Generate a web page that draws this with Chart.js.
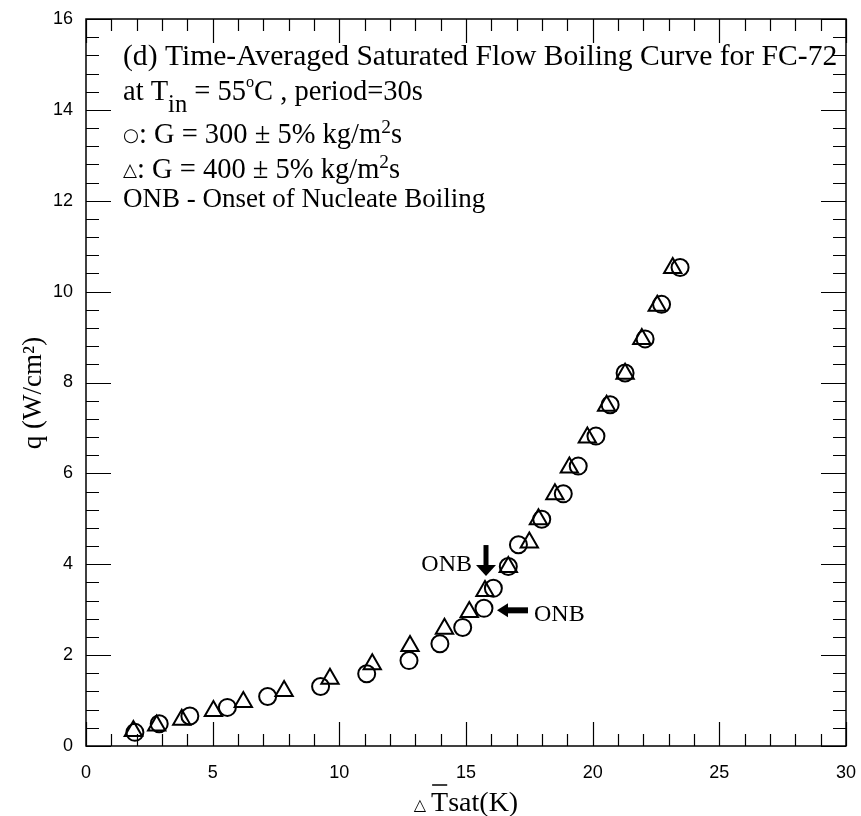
<!DOCTYPE html>
<html>
<head>
<meta charset="utf-8">
<script src="https://cdn.jsdelivr.net/npm/chart.js@4.4.1/dist/chart.umd.min.js"></script>
<style>
  body { margin: 0; background: #fff; }
</style>
</head>
<body>
<canvas id="chart" width="861" height="816"></canvas>
<script>
// G = 300 kg/m2s (circles)
const g300Dt = [1.93, 2.89, 4.10, 5.58, 7.17, 9.26, 11.08, 12.75, 13.97, 14.87, 15.71, 16.08, 16.67, 17.07, 17.99, 18.84, 19.43, 20.13, 20.69, 21.28, 22.07, 22.72, 23.45];
const g300Q = [0.30, 0.49, 0.66, 0.85, 1.09, 1.31, 1.59, 1.88, 2.25, 2.61, 3.03, 3.47, 3.95, 4.43, 4.99, 5.55, 6.16, 6.82, 7.51, 8.21, 8.96, 9.72, 10.53];
// G = 400 kg/m2s (triangles)
const g400Dt = [1.87, 2.79, 3.78, 5.03, 6.21, 7.82, 9.63, 11.30, 12.79, 14.15, 15.13, 15.75, 16.67, 17.50, 17.86, 18.51, 19.08, 19.79, 20.55, 21.28, 21.94, 22.55, 23.16];
const g400Q = [0.33, 0.45, 0.58, 0.77, 0.97, 1.21, 1.48, 1.80, 2.20, 2.58, 2.95, 3.41, 3.94, 4.48, 4.99, 5.54, 6.13, 6.79, 7.49, 8.19, 8.96, 9.69, 10.52];

// which point is the onset of nucleate boiling
const onb300Index = 10;
const onb400Index = 11;

const xMin = 0, xMax = 30, xStep = 5;
const yMin = 0, yMax = 16, yStep = 2;

const noteLines = [
  [['(d) Time-Averaged Saturated Flow Boiling Curve for FC-72']],
  [['at T'], ['in', 'sub'], [' = 55'], ['o', 'sup'], ['C , period=30s']],
  [['\u25CB', 'sym'], [': G = 300 \u00B1 5% kg/m'], ['2', 'sup2'], ['s']],
  [['\u25B3', 'sym'], [': G = 400 \u00B1 5% kg/m'], ['2', 'sup2'], ['s']],
  [['ONB - Onset of Nucleate Boiling']]
];

const serif = '"Liberation Serif", "Times New Roman", serif';
const sans = '"Liberation Sans", Arial, sans-serif';

function toPoints(xs, ys) {
  return xs.map((x, i) => ({ x: x, y: ys[i] }));
}

const runStyle = {
  normal: { size: 1, dy: 0, family: serif },
  sub: { size: 0.86, dy: 12, family: serif },
  sup: { size: 0.57, dy: -13, family: serif },
  sup2: { size: 0.68, dy: -10, family: serif },
  sym: { size: 0.64, dy: -2, family: '"DejaVu Sans", sans-serif' }
};

function drawRuns(ctx, runs, x, y, size) {
  runs.forEach(r => {
    const st = runStyle[r[1] || 'normal'];
    ctx.font = (size * st.size) + 'px ' + st.family;
    ctx.fillText(r[0], x, y + st.dy);
    x += ctx.measureText(r[0]).width;
  });
}

const framePlugin = {
  id: 'frame',
  afterDraw(chart) {
    const ctx = chart.ctx;
    const a = chart.chartArea;
    const xs = chart.scales.x;
    const ys = chart.scales.y;
    ctx.save();
    ctx.strokeStyle = '#000';
    ctx.fillStyle = '#000';

    // box
    ctx.lineWidth = 1.5;
    ctx.strokeRect(a.left, a.top, a.right - a.left, a.bottom - a.top);

    // inward ticks
    ctx.lineWidth = 1.2;
    ctx.beginPath();
    for (let v = xMin; v <= xMax; v += 1) {
      const px = Math.round(xs.getPixelForValue(v)) + 0.5;
      const len = v % xStep === 0 ? 24 : 12;
      ctx.moveTo(px, a.bottom); ctx.lineTo(px, a.bottom - len);
      ctx.moveTo(px, a.top); ctx.lineTo(px, a.top + len);
    }
    for (let k = 0; k <= 40; k++) {
      const v = yMin + k * 0.4;
      const py = Math.round(ys.getPixelForValue(v)) + 0.5;
      const len = k % 5 === 0 ? 25 : 13;
      ctx.moveTo(a.left, py); ctx.lineTo(a.left + len, py);
      ctx.moveTo(a.right, py); ctx.lineTo(a.right - len, py);
    }
    ctx.stroke();

    // notes
    ctx.textBaseline = 'alphabetic';
    ctx.textAlign = 'left';
    const baselines = [65, 100, 143, 178, 207];
    const sizes = [29.6, 28.5, 28.5, 28.5, 27];
    noteLines.forEach((line, i) => drawRuns(ctx, line, 123, baselines[i], sizes[i]));

    // ONB arrows
    const p4 = chart.getDatasetMeta(1).data[onb400Index];
    const p3 = chart.getDatasetMeta(0).data[onb300Index];
    // down arrow onto triangle
    let tx = p4.x + 1, ty = p4.y - 15;
    ctx.fillRect(tx - 2.5, ty - 31, 5, 21);
    ctx.beginPath();
    ctx.moveTo(tx - 10, ty - 11); ctx.lineTo(tx + 10, ty - 11); ctx.lineTo(tx, ty);
    ctx.closePath(); ctx.fill();
    ctx.font = '24px ' + serif;
    ctx.textAlign = 'right';
    ctx.fillText('ONB', tx - 14, ty - 5);
    // left arrow onto circle
    tx = p3.x + 13; ty = p3.y + 2;
    ctx.fillRect(tx + 10, ty - 3, 21, 6);
    ctx.beginPath();
    ctx.moveTo(tx + 11, ty - 7); ctx.lineTo(tx + 11, ty + 7); ctx.lineTo(tx, ty);
    ctx.closePath(); ctx.fill();
    ctx.textAlign = 'left';
    ctx.fillText('ONB', tx + 37, ty + 11);

    // y axis title
    ctx.save();
    ctx.translate(41, 393);
    ctx.rotate(-Math.PI / 2);
    ctx.textAlign = 'center';
    ctx.font = '27px ' + serif;
    ctx.fillText('q (W/cm\u00B2)', 0, 0);
    ctx.restore();

    // x axis title:  small triangle, T with overbar, sat(K)
    const cx = (a.left + a.right) / 2;
    const base = 811;
    ctx.textAlign = 'left';
    ctx.font = '16px "DejaVu Sans", sans-serif';
    const wTri = ctx.measureText('\u25B3').width;
    ctx.font = '28px ' + serif;
    const wT = ctx.measureText('T').width;
    const wRest = ctx.measureText('sat(K)').width;
    let x0 = cx - (wTri + 5 + wT + wRest) / 2;
    ctx.font = '16px "DejaVu Sans", sans-serif';
    ctx.fillText('\u25B3', x0, base - 1);
    x0 += wTri + 5;
    ctx.font = '28px ' + serif;
    ctx.fillText('T', x0, base);
    ctx.lineWidth = 1.5;
    ctx.beginPath();
    ctx.moveTo(x0 + 1, base - 26); ctx.lineTo(x0 + wT - 1, base - 26);
    ctx.stroke();
    ctx.fillText('sat(K)', x0 + wT, base);
    ctx.restore();
  }
};

new Chart(document.getElementById('chart'), {
  type: 'scatter',
  data: {
    datasets: [
      {
        label: 'G = 300',
        data: toPoints(g300Dt, g300Q),
        pointStyle: 'circle',
        pointRadius: 8.5,
        borderColor: '#000',
        backgroundColor: 'rgba(0,0,0,0)',
        borderWidth: 2
      },
      {
        label: 'G = 400',
        data: toPoints(g400Dt, g400Q),
        pointStyle: 'triangle',
        pointRadius: 10,
        borderColor: '#000',
        backgroundColor: 'rgba(0,0,0,0)',
        borderWidth: 2
      }
    ]
  },
  options: {
    responsive: false,
    animation: false,
    layout: { padding: { top: 19, right: 15, left: 0, bottom: 0 } },
    plugins: {
      legend: { display: false },
      tooltip: { enabled: false }
    },
    scales: {
      x: {
        type: 'linear',
        min: xMin,
        max: xMax,
        grid: { display: false, drawTicks: false },
        border: { display: false },
        ticks: {
          stepSize: xStep,
          padding: 16,
          color: '#000',
          font: { family: sans, size: 18 }
        },
        afterFit(scale) {
          scale.height = 70;
          scale.paddingLeft = 0;
          scale.paddingRight = 0;
        }
      },
      y: {
        type: 'linear',
        min: yMin,
        max: yMax,
        grid: { display: false, drawTicks: false },
        border: { display: false },
        ticks: {
          stepSize: yStep,
          padding: 13,
          color: '#000',
          font: { family: sans, size: 18 }
        },
        afterFit(scale) {
          scale.width = 86;
          scale.paddingTop = 0;
          scale.paddingBottom = 0;
        }
      }
    }
  },
  plugins: [framePlugin]
});
</script>
</body>
</html>
